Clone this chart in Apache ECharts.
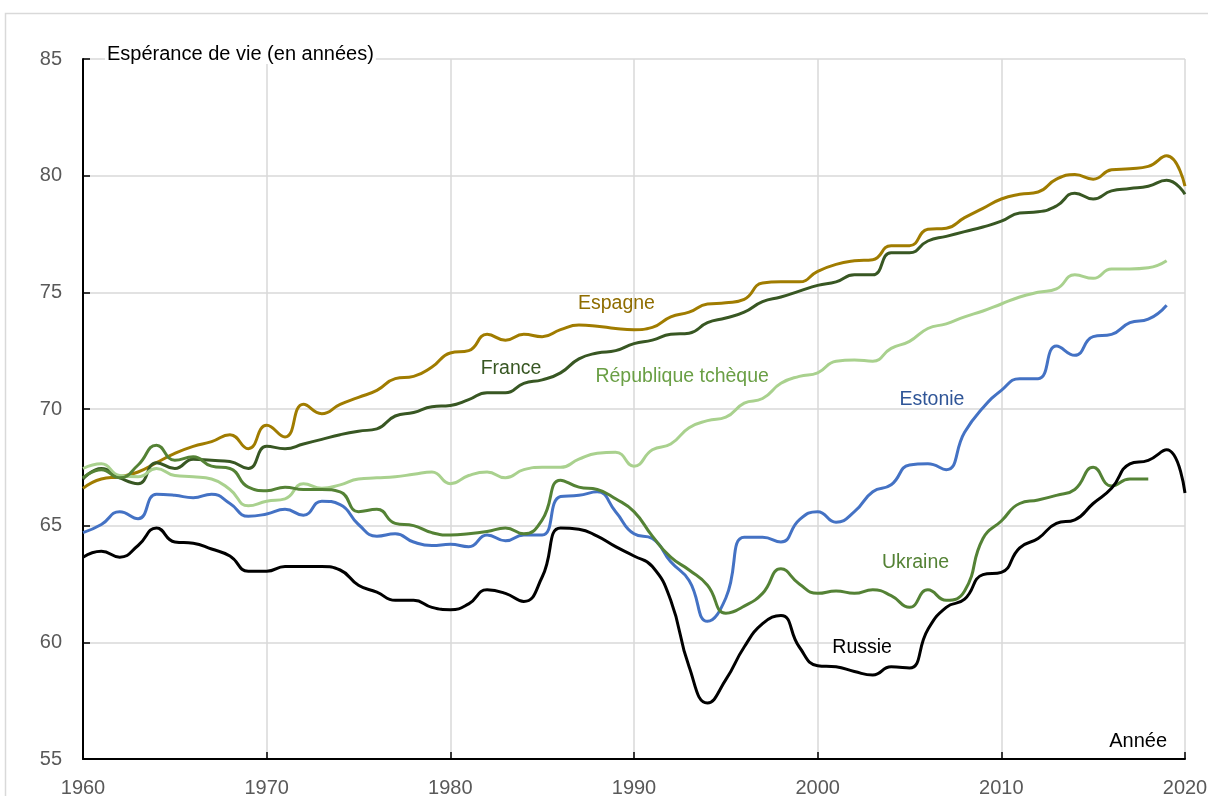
<!DOCTYPE html>
<html>
<head>
    <meta charset="utf-8">
    <title>Espérance de vie</title>
    <script src="https://cdn.jsdelivr.net/npm/echarts@6/dist/echarts.min.js"></script>
    <style>
        html, body { margin: 0; padding: 0; background: #fff; }
        #main { width: 1208px; height: 796px; }
    </style>
</head>
<body>
<div id="main"></div>
<script type="text/javascript">
    // années (axe des x)
    var years = [
        1960, 1961, 1962, 1963, 1964, 1965, 1966, 1967, 1968, 1969,
        1970, 1971, 1972, 1973, 1974, 1975, 1976, 1977, 1978, 1979,
        1980, 1981, 1982, 1983, 1984, 1985, 1986, 1987, 1988, 1989,
        1990, 1991, 1992, 1993, 1994, 1995, 1996, 1997, 1998, 1999,
        2000, 2001, 2002, 2003, 2004, 2005, 2006, 2007, 2008, 2009,
        2010, 2011, 2012, 2013, 2014, 2015, 2016, 2017, 2018, 2019,
        2020
    ];
    var xTicks = [1960, 1970, 1980, 1990, 2000, 2010, 2020];
    var yTicks = [55, 60, 65, 70, 75, 80, 85];

    // valeurs, à partir de 1960
    var espagne = [
        66.6, 67.0, 67.1, 67.3, 67.7, 68.1, 68.4, 68.6, 68.9, 68.3,
        69.3, 68.8, 70.2, 69.8, 70.2, 70.5, 70.8, 71.3, 71.4, 71.8,
        72.4, 72.5, 73.2, 72.95, 73.2, 73.1, 73.4, 73.6, 73.55, 73.45,
        73.4, 73.5, 73.95, 74.15, 74.5, 74.55, 74.7, 75.4, 75.45, 75.45,
        75.9, 76.2, 76.35, 76.4, 77.0, 77.0, 77.7, 77.75, 78.2, 78.6,
        79.0, 79.2, 79.3, 79.85, 80.05, 79.85, 80.25, 80.3, 80.4, 80.85,
        79.55
    ];
    var france = [
        67.0, 67.45, 67.05, 66.8, 67.7, 67.45, 67.85, 67.8, 67.75, 67.45,
        68.4, 68.3, 68.5, 68.7, 68.9, 69.05, 69.15, 69.7, 69.85, 70.1,
        70.15, 70.4, 70.7, 70.7, 71.1, 71.25, 71.55, 72.15, 72.4, 72.5,
        72.8, 72.95, 73.2, 73.25, 73.7, 73.9, 74.15, 74.6, 74.8, 75.05,
        75.3, 75.45, 75.75, 75.75, 76.7, 76.7, 77.2, 77.4, 77.6, 77.8,
        78.05, 78.4, 78.45, 78.7, 79.25, 79.0, 79.35, 79.45, 79.55, 79.8,
        79.2
    ];
    var tcheque = [
        67.45, 67.65, 67.15, 67.1, 67.45, 67.15, 67.1, 67.0, 66.55, 65.85,
        66.05, 66.15, 66.8, 66.6, 66.75, 67.0, 67.05, 67.1, 67.2, 67.3,
        66.8, 67.15, 67.3, 67.05, 67.4, 67.5, 67.5, 67.85, 68.1, 68.15,
        67.55, 68.25, 68.5, 69.2, 69.5, 69.65, 70.25, 70.45, 71.1, 71.4,
        71.55, 72.05, 72.1, 72.05, 72.6, 72.9, 73.45, 73.65, 73.95, 74.2,
        74.5, 74.8, 75.0, 75.15, 75.75, 75.6, 76.0, 76.0, 76.05, 76.35
    ];
    var estonie = [
        64.7, 65.05, 65.6, 65.3, 66.35, 66.3, 66.2, 66.35, 65.95, 65.4,
        65.5, 65.7, 65.45, 66.05, 65.9, 65.05, 64.55, 64.65, 64.3, 64.15,
        64.2, 64.1, 64.6, 64.35, 64.6, 64.6, 66.25, 66.3, 66.45, 65.6,
        64.65, 64.45, 63.45, 62.65, 60.9, 61.9, 64.5, 64.5, 64.3, 65.25,
        65.6, 65.15, 65.6, 66.45, 66.75, 67.6, 67.65, 67.4, 69.0, 70.05,
        70.8, 71.3, 71.3, 72.7, 72.3, 73.1, 73.2, 73.7, 73.85, 74.45
    ];
    var ukraine = [
        67.05, 67.4, 67.05, 67.6, 68.45, 67.8, 67.95, 67.55, 67.45, 66.65,
        66.5, 66.65, 66.55, 66.55, 66.45, 65.6, 65.7, 65.1, 65.0, 64.7,
        64.6, 64.65, 64.75, 64.9, 64.65, 65.25, 66.95, 66.65, 66.55, 66.15,
        65.6, 64.55, 63.65, 63.1, 62.45, 61.25, 61.55, 62.1, 63.15, 62.5,
        62.1, 62.2, 62.1, 62.25, 62.0, 61.5, 62.25, 61.8, 62.2, 64.45,
        65.2, 65.95, 66.1, 66.3, 66.55, 67.5, 66.7, 67.0, 67.0
    ];
    var russie = [
        63.65, 63.9, 63.65, 64.15, 64.9, 64.3, 64.25, 64.0, 63.7, 63.05,
        63.05, 63.25, 63.25, 63.25, 63.1, 62.45, 62.15, 61.8, 61.8, 61.5,
        61.4, 61.65, 62.25, 62.1, 61.75, 62.8, 64.9, 64.85, 64.55, 64.1,
        63.7, 63.25, 61.8, 58.95, 57.4, 58.4, 59.8, 60.8, 61.15, 59.8,
        59.0, 58.95, 58.75, 58.6, 58.95, 58.9, 60.55, 61.5, 61.85, 62.9,
        63.0, 64.05, 64.45, 65.1, 65.25, 65.95, 66.6, 67.65, 67.8, 68.25,
        66.4
    ];

    // étiquettes des séries : [année, valeur] (coin gauche, milieu vertical)
    var labelNames = ['Espagne', 'France', 'République tchèque', 'Estonie', 'Ukraine', 'Russie'];
    var labelAt = [[1986.95, 74.5], [1981.65, 71.72], [1987.9, 71.37], [2004.45, 70.39], [2003.5, 63.4], [2000.8, 59.76]];
    var labelColors = ['#8f6d00', '#385723', '#6a9f45', '#2f5597', '#548235', '#000000'];

    var lineColors = ['#a07c00', '#385723', '#a9d18e', '#4472c4', '#548235', '#000000'];
    var allSeries = [espagne, france, tcheque, estonie, ukraine, russie];

    function pairs(values) {
        var out = [];
        for (var i = 0; i < values.length; i++) {
            out.push([years[i], values[i]]);
        }
        return out;
    }

    var myChart = echarts.init(document.getElementById('main'));
    var font = 'Liberation Sans, Arial, sans-serif';

    myChart.setOption({
        animation: false,
        backgroundColor: '#ffffff',
        title: [{
            text: 'Espérance de vie (en années)',
            left: 105,
            top: 44,
            padding: [0, 2],
            backgroundColor: '#ffffff',
            textStyle: { fontFamily: font, fontSize: 20, fontWeight: 'normal', color: '#000' }
        }, {
            text: 'Année',
            right: 41,
            top: 731,
            padding: 0,
            textStyle: { fontFamily: font, fontSize: 20, fontWeight: 'normal', color: '#000' }
        }],
        grid: { left: 83, right: 23, top: 59, bottom: 37, containLabel: false, outerBoundsMode: 'none' },
        xAxis: {
            type: 'value',
            min: xTicks[0],
            max: xTicks[xTicks.length - 1],
            interval: 10,
            axisLine: { onZero: false, lineStyle: { color: '#000', width: 2 } },
            axisTick: { inside: true, length: 7, lineStyle: { color: '#000', width: 1.5 } },
            axisLabel: {
                margin: 19, fontFamily: font, fontSize: 20, color: '#595959',
                formatter: function (v) { return String(v); }
            },
            splitLine: { show: true, lineStyle: { color: '#d9d9d9', width: 1.5 } }
        },
        yAxis: {
            type: 'value',
            min: yTicks[0],
            max: yTicks[yTicks.length - 1],
            interval: 5,
            axisLine: { show: true, onZero: false, lineStyle: { color: '#000', width: 2 } },
            axisTick: { show: true, inside: true, length: 7, lineStyle: { color: '#000', width: 1.5 } },
            axisLabel: { margin: 21, fontFamily: font, fontSize: 20, color: '#595959' },
            splitLine: { show: true, lineStyle: { color: '#d9d9d9', width: 1.5 } }
        },
        series: allSeries.map(function (vals, i) {
            return {
                name: labelNames[i],
                type: 'line',
                data: pairs(vals),
                smooth: 0.5,
                showSymbol: false,
                symbol: 'none',
                lineStyle: { color: lineColors[i], width: 3 },
                z: 2 + i
            };
        })
    });

    // cadre extérieur et étiquettes placées en coordonnées de données
    var graphics = [{
        type: 'rect',
        shape: { x: 5.5, y: 13.5, width: 1300, height: 900 },
        style: { fill: 'none', stroke: '#d9d9d9', lineWidth: 1.5 },
        silent: true,
        z: -10
    }];
    for (var k = 0; k < labelNames.length; k++) {
        var p = myChart.convertToPixel('grid', labelAt[k]);
        graphics.push({
            type: 'text',
            x: p[0],
            y: p[1],
            style: {
                text: labelNames[k],
                fill: labelColors[k],
                font: '19.5px ' + font,
                verticalAlign: 'middle'
            },
            z: 20
        });
    }
    myChart.setOption({ graphic: graphics });
</script>
</body>
</html>
